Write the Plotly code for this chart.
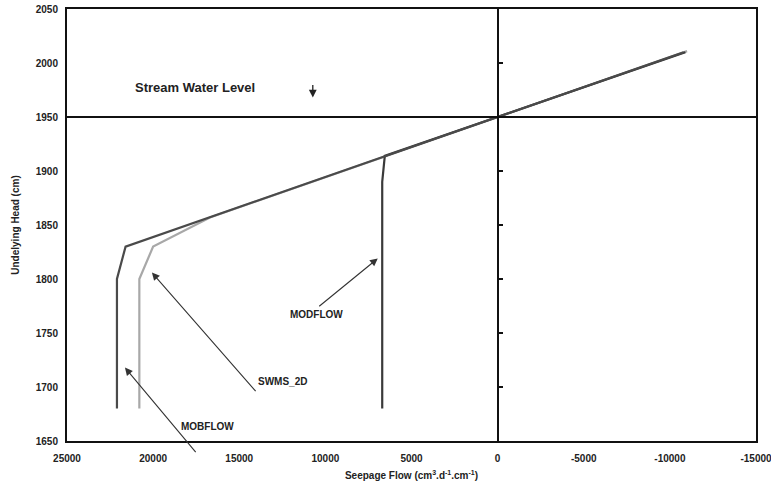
import plotly.graph_objects as go

# Data
mobflow_x = [-10800, 0, 21600, 22100, 22100]
mobflow_y = [2010, 1950, 1830, 1800, 1680]

swms_x = [-11000, 0, 16700, 20000, 20800, 20800]
swms_y = [2011, 1950, 1857, 1830, 1800, 1680]

modflow_x = [-10900, 0, 6550, 6700, 6700]
modflow_y = [2010, 1950, 1914, 1890, 1680]

y_ticks = [1650, 1700, 1750, 1800, 1850, 1900, 1950, 2000, 2050]
x_ticks = [25000, 20000, 15000, 10000, 5000, 0, -5000, -10000, -15000]
x_range = [25000, -15000]
y_range = [1650, 2050]

FONT = "Liberation Sans, Arial, sans-serif"

fig = go.Figure()
fig.add_trace(go.Scatter(x=swms_x, y=swms_y, mode="lines", name="SWMS_2D",
                         line=dict(color="#a8a8a8", width=2.2)))
fig.add_trace(go.Scatter(x=modflow_x, y=modflow_y, mode="lines", name="MODFLOW",
                         line=dict(color="#3a3a3a", width=2.2)))
fig.add_trace(go.Scatter(x=mobflow_x, y=mobflow_y, mode="lines", name="MOBFLOW",
                         line=dict(color="#4a4a4a", width=2.2)))
# invisible trace to activate secondary axes
fig.add_trace(go.Scatter(x=[0], y=[1950], xaxis="x2", yaxis="y2", mode="markers",
                         marker=dict(opacity=0), showlegend=False, hoverinfo="skip"))

tickfont = dict(family=FONT, size=10, color="#222", weight="bold")

fig.update_layout(
    width=771, height=488,
    margin=dict(l=67, r=15, t=9, b=47, autoexpand=False),
    paper_bgcolor="white", plot_bgcolor="white",
    showlegend=False,
    xaxis=dict(range=x_range, tickvals=x_ticks, ticktext=[str(v) for v in x_ticks],
               showgrid=False, zeroline=False, showline=True, linecolor="#111",
               linewidth=2, mirror=True, ticks="", tickfont=tickfont,
               ticklabelstandoff=7, ticklabeloverflow="allow",
               automargin=False,
               title=dict(text="Seepage Flow (cm<sup>3</sup>.d<sup>-1</sup>.cm<sup>-1</sup>)",
                          font=dict(family=FONT, size=10, color="#222", weight="bold"),
                          standoff=9)),
    yaxis=dict(range=y_range, tickvals=y_ticks, showgrid=False, zeroline=False,
               showline=True, linecolor="#111", linewidth=2, mirror=True, ticks="",
               tickfont=tickfont, ticklabelstandoff=5, automargin=False,
               ticklabeloverflow="allow",
               title=dict(text="Undelying Head (cm)",
                          font=dict(family=FONT, size=10, color="#222", weight="bold"),
                          standoff=14)),
    yaxis2=dict(range=y_range, overlaying="y", anchor="free",
                position=25000 / 40000, side="right", showline=True,
                linecolor="#111", linewidth=2, ticks="outside", ticklen=4,
                tickwidth=2, tickcolor="#111", tickvals=y_ticks[1:-1],
                showticklabels=False, showgrid=False, zeroline=False,
                automargin=False),
    xaxis2=dict(range=x_range, overlaying="x", anchor="free",
                position=(1950 - 1650) / 400, side="bottom", showline=True,
                linecolor="#111", linewidth=2, ticks="", showticklabels=False,
                showgrid=False, zeroline=False, automargin=False),
)

afont = dict(family=FONT, size=10, color="#222", weight="bold")
arrow = dict(showarrow=True, arrowhead=2, arrowsize=1.4, arrowwidth=1.1,
             arrowcolor="#333", axref="pixel", ayref="pixel", text="")

# Arrows
fig.add_annotation(x=6960, y=1819, ax=-60, ay=49, **arrow)
fig.add_annotation(x=20070, y=1806, ax=105, ay=120, **arrow)
fig.add_annotation(x=21636, y=1718, ax=72, ay=86, **arrow)
fig.add_annotation(x=10730, y=1968, ax=0, ay=-14, showarrow=True, arrowhead=2,
                   arrowsize=1.2, arrowwidth=1.3, arrowcolor="#222", text="")

# Labels
fig.add_annotation(x=10500, y=1767, text="MODFLOW", showarrow=False, font=afont)
fig.add_annotation(x=12470, y=1705, text="SWMS_2D", showarrow=False, font=afont)
fig.add_annotation(x=16820, y=1663, text="MOBFLOW", showarrow=False, font=afont)
fig.add_annotation(x=17575, y=1977, text="Stream Water Level", showarrow=False,
                   font=dict(family=FONT, size=13, color="#222", weight="bold"))

fig.write_html("out.html")
